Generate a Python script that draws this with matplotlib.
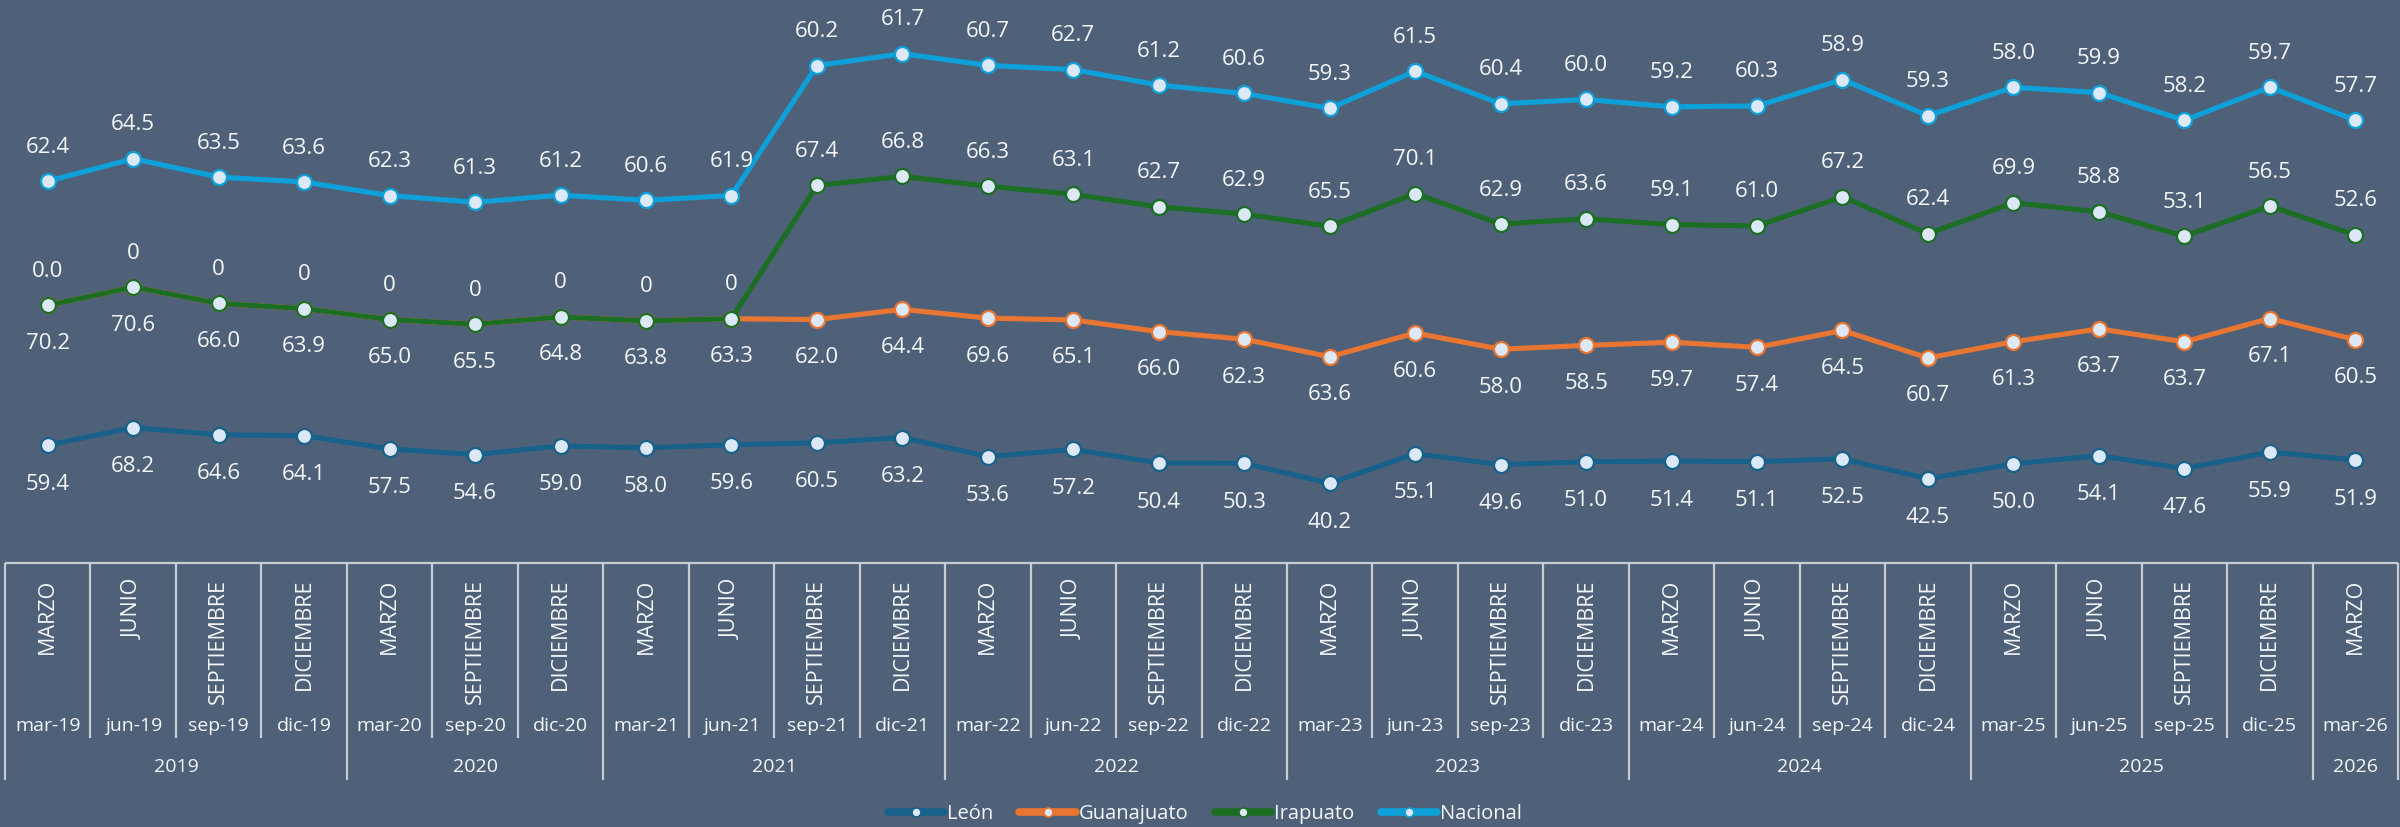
import numpy as np
import matplotlib
matplotlib.use("Agg")
import matplotlib.pyplot as plt
from matplotlib.lines import Line2D

# ---------------- data ----------------
months = ["MARZO", "JUNIO", "SEPTIEMBRE", "DICIEMBRE",
          "MARZO", "SEPTIEMBRE", "DICIEMBRE",
          "MARZO", "JUNIO", "SEPTIEMBRE", "DICIEMBRE",
          "MARZO", "JUNIO", "SEPTIEMBRE", "DICIEMBRE",
          "MARZO", "JUNIO", "SEPTIEMBRE", "DICIEMBRE",
          "MARZO", "JUNIO", "SEPTIEMBRE", "DICIEMBRE",
          "MARZO", "JUNIO", "SEPTIEMBRE", "DICIEMBRE",
          "MARZO"]
dates = ["mar-19", "jun-19", "sep-19", "dic-19",
         "mar-20", "sep-20", "dic-20",
         "mar-21", "jun-21", "sep-21", "dic-21",
         "mar-22", "jun-22", "sep-22", "dic-22",
         "mar-23", "jun-23", "sep-23", "dic-23",
         "mar-24", "jun-24", "sep-24", "dic-24",
         "mar-25", "jun-25", "sep-25", "dic-25",
         "mar-26"]
years = ["2019", "2020", "2021", "2022", "2023", "2024", "2025", "2026"]
year_counts = [4, 3, 4, 4, 4, 4, 4, 1]

leon = [59.4, 68.2, 64.6, 64.1, 57.5, 54.6, 59.0, 58.0, 59.6, 60.5, 63.2,
        53.6, 57.2, 50.4, 50.3, 40.2, 55.1, 49.6, 51.0, 51.4, 51.1, 52.5,
        42.5, 50.0, 54.1, 47.6, 55.9, 51.9]
guanajuato = [70.2, 70.6, 66.0, 63.9, 65.0, 65.5, 64.8, 63.8, 63.3, 62.0, 64.4,
              69.6, 65.1, 66.0, 62.3, 63.6, 60.6, 58.0, 58.5, 59.7, 57.4, 64.5,
              60.7, 61.3, 63.7, 63.7, 67.1, 60.5]
irapuato = [0, 0, 0, 0, 0, 0, 0, 0, 0, 67.4, 66.8,
            66.3, 63.1, 62.7, 62.9, 65.5, 70.1, 62.9, 63.6, 59.1, 61.0, 67.2,
            62.4, 69.9, 58.8, 53.1, 56.5, 52.6]
nacional = [62.4, 64.5, 63.5, 63.6, 62.3, 61.3, 61.2, 60.6, 61.9, 60.2, 61.7,
            60.7, 62.7, 61.2, 60.6, 59.3, 61.5, 60.4, 60.0, 59.2, 60.3, 58.9,
            59.3, 58.0, 59.9, 58.2, 59.7, 57.7]
irapuato_labels = ["0.0", "0", "0", "0", "0", "0", "0", "0", "0"] + \
    ["%.1f" % v for v in irapuato[9:]]

series_names = ["León", "Guanajuato", "Irapuato", "Nacional"]
series_colors = ["#17618A", "#E87532", "#1C6E25", "#0EA0D9"]

# ---------------- style ----------------
BG = "#4E6179"
TXT = "#F4F6F8"
MFC = "#DCE8F6"
GRID = "#C8CDD3"
FONT = ["Open Sans", "DejaVu Sans"]
plt.rcParams["font.family"] = FONT

W, H = 2400, 827
fig = plt.figure(figsize=(W / 100, H / 100), dpi=100, facecolor=BG)

x_left, x_right = 5, 2398
y_zero = 563.3
y_bottom_tab = 785

ax = fig.add_axes([x_left / W, 1 - y_zero / H, (x_right - x_left) / W, y_zero / H])
ax.set_facecolor("none")
ax.set_xlim(-0.5, len(dates) - 0.5)
ax.set_ylim(0, y_zero / 1.99)
ax.axis("off")

x = np.arange(len(dates))
values = np.vstack([leon, guanajuato, irapuato, nacional])
stacked = np.cumsum(values, axis=0)

label_sets = [
    ["%.1f" % v for v in leon],
    ["%.1f" % v for v in guanajuato],
    irapuato_labels,
    ["%.1f" % v for v in nacional],
]
offsets = [-39, -38, 34, 34]

for i in range(4):
    ax.plot(x, stacked[i], color=series_colors[i], lw=3.7, marker="o", ms=10.8,
            mfc=MFC, mec=series_colors[i], mew=1.6, zorder=3 + i, clip_on=False,
            solid_joinstyle="round")
    for xi, yi, lab in zip(x, stacked[i], label_sets[i]):
        ax.annotate(lab, (xi, yi), xytext=(0, offsets[i]), textcoords="offset pixels",
                    ha="center", va="center", fontsize=16, color=TXT, zorder=10)

# ---------------- category table ----------------
tax = fig.add_axes([x_left / W, 1 - y_bottom_tab / H, (x_right - x_left) / W,
                    (y_bottom_tab - y_zero) / H])
tax.set_facecolor("none")
tax.set_xlim(-0.5, len(dates) - 0.5)
tax.set_ylim(y_bottom_tab, y_zero)
tax.axis("off")

tax.plot([-0.5, len(dates) - 0.5], [y_zero, y_zero], color=GRID, lw=1.6,
         clip_on=False, solid_capstyle="butt")
year_bounds = set(np.concatenate([[0], np.cumsum(year_counts)]).tolist())
for b in range(len(dates) + 1):
    y_end = 780 if b in year_bounds else 738
    tax.plot([b - 0.5, b - 0.5], [y_zero, y_end], color=GRID, lw=1.6,
             clip_on=False, solid_capstyle="butt")

for i in range(len(dates)):
    tax.text(i, 579, months[i], rotation=90, ha="center", va="top",
             fontsize=15.5, color=TXT)
    tax.text(i, 726, dates[i], ha="center", va="center", fontsize=14, color=TXT)

start = 0
for yr, cnt in zip(years, year_counts):
    tax.text(start + (cnt - 1) / 2, 767, yr, ha="center", va="center",
             fontsize=14, color=TXT)
    start += cnt

# ---------------- legend ----------------
handles = [Line2D([0], [0], color=c, lw=5.5, marker="o", ms=6.5, mfc=MFC, mec=c,
                  mew=1.2, solid_capstyle="round") for c in series_colors]
leg = fig.legend(handles, series_names, loc="center", bbox_to_anchor=(0.502, 1 - 814 / H),
                 ncol=4, frameon=False, fontsize=14.5, handlelength=2.8,
                 handletextpad=0.15, columnspacing=1.3)
for t in leg.get_texts():
    t.set_color(TXT)

fig.savefig("out.png", dpi=100, facecolor=BG)
